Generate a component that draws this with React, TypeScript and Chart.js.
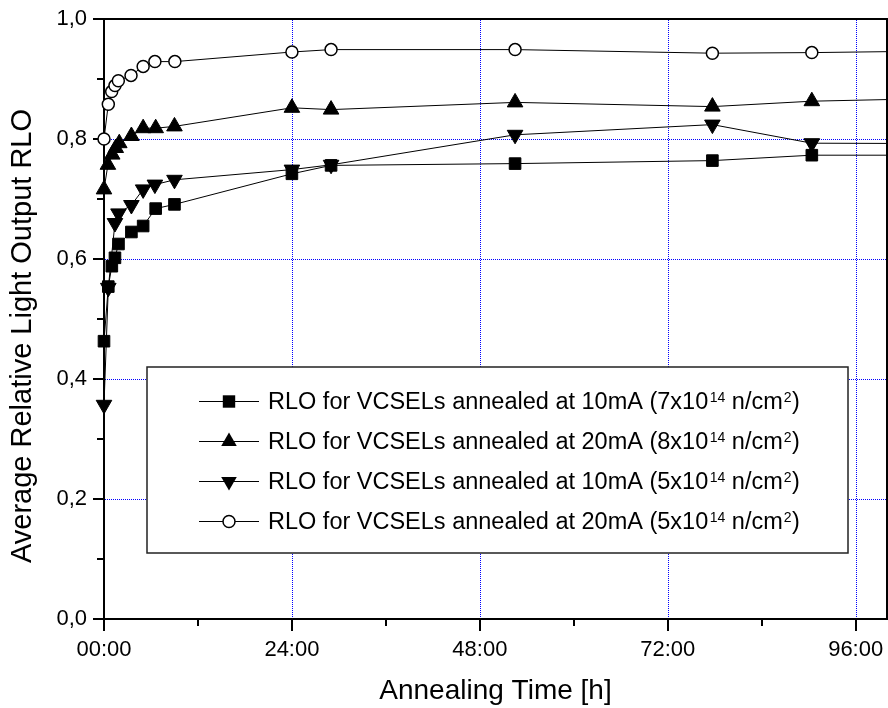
import React, { useEffect, useRef } from 'react';
import { Chart, registerables } from 'chart.js';

Chart.register(...registerables);

const FONT = '"Liberation Sans", Arial, Helvetica, sans-serif';

// ---- axis ticks ----
const xMajorTicks = [0, 24, 48, 72, 96];
const xMinorTicks = [12, 36, 60, 84];
const yMajorTicks = [0, 0.2, 0.4, 0.6, 0.8, 1.0];
const yMinorTicks = [0.1, 0.3, 0.5, 0.7, 0.9];
const xGridValues = [24, 48, 72, 96];
const yGridValues = [0.2, 0.4, 0.6, 0.8];

// ---- series: RLO 10mA (7x10^14) squares ----
const sqTimes = [0, 0.55, 1.0, 1.4, 1.85, 3.5, 5.0, 6.6, 9.0, 24, 29, 52.5, 77.7, 90.4, 115];
const sqValues = [0.463, 0.554, 0.588, 0.602, 0.625, 0.645, 0.655, 0.684, 0.691, 0.742, 0.756, 0.759, 0.764, 0.773, 0.773];

// ---- series: RLO 20mA (8x10^14) up triangles ----
const upTimes = [0, 0.5, 1.05, 1.5, 1.95, 3.5, 5.0, 6.6, 9.0, 24, 29, 52.5, 77.7, 90.4, 115];
const upValues = [0.716, 0.757, 0.774, 0.785, 0.793, 0.805, 0.818, 0.818, 0.821, 0.852, 0.849, 0.861, 0.854, 0.863, 0.870];

// ---- series: RLO 10mA (5x10^14) down triangles ----
const dnTimes = [0, 0.55, 1.4, 1.85, 3.5, 5.0, 6.5, 9.0, 24, 29, 52.5, 77.7, 90.4, 115];
const dnValues = [0.357, 0.552, 0.66, 0.676, 0.69, 0.716, 0.724, 0.732, 0.749, 0.757, 0.807, 0.824, 0.793, 0.792];

// ---- series: RLO 20mA (5x10^14) open circles ----
const ciTimes = [0, 0.55, 0.98, 1.4, 1.83, 3.45, 5.0, 6.5, 9.05, 24, 29, 52.5, 77.7, 90.4, 115];
const ciValues = [0.8, 0.858, 0.879, 0.889, 0.897, 0.906, 0.921, 0.929, 0.929, 0.945, 0.949, 0.949, 0.943, 0.944, 0.948];

// ---- legend text parts ----
const legendMain = [
  'RLO for VCSELs annealed at 10mA (7x10',
  'RLO for VCSELs annealed at 20mA (8x10',
  'RLO for VCSELs annealed at 10mA (5x10',
  'RLO for VCSELs annealed at 20mA (5x10',
];
const legendExp = ['14', '14', '14', '14'];
const legendUnit = ' n/cm';
const legendUnitExp = '2';
const legendClose = ')';
const legendStyles = ['square', 'up', 'down', 'circle'];

const xTitle = 'Annealing Time [h]';
const yTitle = 'Average Relative Light Output RLO';

function toPoints(t: number[], v: number[]) {
  return t.map((x, i) => ({ x, y: v[i] }));
}

function drawMarker(ctx: CanvasRenderingContext2D, style: string, x: number, y: number) {
  ctx.save();
  ctx.fillStyle = '#000';
  ctx.strokeStyle = '#000';
  ctx.lineWidth = 1;
  if (style === 'square') {
    const s = 6.2;
    ctx.fillRect(x - s, y - s, 2 * s, 2 * s);
  } else if (style === 'up' || style === 'down') {
    const r = 9;
    const d = style === 'up' ? 1 : -1;
    ctx.beginPath();
    ctx.moveTo(x, y - d * r);
    ctx.lineTo(x + r * 0.866, y + d * r * 0.5);
    ctx.lineTo(x - r * 0.866, y + d * r * 0.5);
    ctx.closePath();
    ctx.fill();
  } else {
    ctx.fillStyle = '#fff';
    ctx.lineWidth = 1.5;
    ctx.beginPath();
    ctx.arc(x, y, 6, 0, Math.PI * 2);
    ctx.fill();
    ctx.stroke();
  }
  ctx.restore();
}

const decorPlugin = {
  id: 'decor',
  beforeDatasetsDraw(chart: any) {
    const { ctx, chartArea: a, scales } = chart;
    const xs = scales.x;
    const ys = scales.y;
    ctx.save();
    // dotted blue grid
    ctx.fillStyle = '#0000ff';
    for (const v of yGridValues) {
      const py = Math.round(ys.getPixelForValue(v));
      for (let px = Math.ceil(a.left) + 1; px < a.right; px += 2) ctx.fillRect(px, py, 1, 1);
    }
    for (const v of xGridValues) {
      const px = Math.round(xs.getPixelForValue(v));
      for (let py = Math.ceil(a.top) + 1; py < a.bottom; py += 2) ctx.fillRect(px, py, 1, 1);
    }
    // frame
    ctx.strokeStyle = '#000';
    ctx.lineWidth = 2;
    ctx.strokeRect(a.left, a.top, a.right - a.left, a.bottom - a.top);
    ctx.beginPath();
    for (const v of xMajorTicks) {
      const px = Math.round(xs.getPixelForValue(v));
      ctx.moveTo(px, a.bottom);
      ctx.lineTo(px, a.bottom + 12);
    }
    for (const v of xMinorTicks) {
      const px = Math.round(xs.getPixelForValue(v));
      ctx.moveTo(px, a.bottom);
      ctx.lineTo(px, a.bottom + 7);
    }
    for (const v of yMajorTicks) {
      const py = Math.round(ys.getPixelForValue(v));
      ctx.moveTo(a.left, py);
      ctx.lineTo(a.left - 11, py);
    }
    for (const v of yMinorTicks) {
      const py = Math.round(ys.getPixelForValue(v));
      ctx.moveTo(a.left, py);
      ctx.lineTo(a.left - 7, py);
    }
    ctx.stroke();
    ctx.restore();
  },
  afterDatasetsDraw(chart: any) {
    const { ctx } = chart;
    // legend box
    const bx = 147, by = 367, bw = 701, bh = 186;
    ctx.save();
    ctx.fillStyle = '#fff';
    ctx.fillRect(bx, by, bw, bh);
    ctx.strokeStyle = '#222';
    ctx.lineWidth = 1.5;
    ctx.strokeRect(bx, by, bw, bh);
    for (let i = 0; i < legendMain.length; i++) {
      const cy = 401 + i * 40;
      ctx.strokeStyle = '#000';
      ctx.lineWidth = 1;
      ctx.beginPath();
      ctx.moveTo(199, cy + 0.5);
      ctx.lineTo(259, cy + 0.5);
      ctx.stroke();
      drawMarker(ctx, legendStyles[i], 229, cy + 0.5);
      const base = cy + 7.5;
      ctx.fillStyle = '#000';
      ctx.textAlign = 'left';
      ctx.textBaseline = 'alphabetic';
      let x = 268;
      ctx.font = `23.5px ${FONT}`;
      ctx.fillText(legendMain[i], x, base);
      x += ctx.measureText(legendMain[i]).width + 1.5;
      ctx.font = `14px ${FONT}`;
      ctx.fillText(legendExp[i], x, base - 7);
      x += ctx.measureText(legendExp[i]).width;
      ctx.font = `23.5px ${FONT}`;
      ctx.fillText(legendUnit, x, base);
      x += ctx.measureText(legendUnit).width + 1;
      ctx.font = `14px ${FONT}`;
      ctx.fillText(legendUnitExp, x, base - 7);
      x += ctx.measureText(legendUnitExp).width + 0.5;
      ctx.font = `23.5px ${FONT}`;
      ctx.fillText(legendClose, x, base);
    }
    // y title
    ctx.translate(23, 336);
    ctx.rotate(-Math.PI / 2);
    ctx.font = `29px ${FONT}`;
    ctx.textAlign = 'center';
    ctx.textBaseline = 'middle';
    ctx.fillStyle = '#000';
    ctx.fillText(yTitle, 0, 0);
    ctx.restore();
  },
};

export default function App() {
  const ref = useRef<HTMLCanvasElement | null>(null);
  useEffect(() => {
    if (!ref.current) return;
    const common = {
      borderColor: '#000',
      borderWidth: 1,
      pointBorderColor: '#000',
      pointBorderWidth: 1,
      showLine: true,
      tension: 0,
      clip: { left: 20, top: 20, right: 0, bottom: 20 },
    };
    const chart = new Chart(ref.current, {
      type: 'scatter',
      data: {
        datasets: [
          { ...common, label: legendMain[0], data: toPoints(sqTimes, sqValues), pointStyle: 'rect', pointRadius: 8.2, pointBackgroundColor: '#000' },
          { ...common, label: legendMain[1], data: toPoints(upTimes, upValues), pointStyle: 'triangle', pointRadius: 9, pointBackgroundColor: '#000' },
          { ...common, label: legendMain[2], data: toPoints(dnTimes, dnValues), pointStyle: 'triangle', pointRotation: 180, pointRadius: 9, pointBackgroundColor: '#000' },
          { ...common, label: legendMain[3], data: toPoints(ciTimes, ciValues), pointStyle: 'circle', pointRadius: 6, pointBorderWidth: 1.5, pointBackgroundColor: '#fff' },
        ] as any,
      },
      options: {
        responsive: false,
        animation: false,
        layout: { autoPadding: false, padding: { top: 19, right: 1, left: 0, bottom: 0 } },
        plugins: { legend: { display: false }, tooltip: { enabled: false }, title: { display: false } },
        scales: {
          x: {
            type: 'linear',
            min: 0,
            max: 100,
            afterFit: (s: any) => {
              s.height = 89;
              s.paddingLeft = 0;
              s.paddingRight = 0;
              s.paddingTop = 0;
              s.paddingBottom = 0;
            },
            ticks: {
              stepSize: 24,
              includeBounds: false,
              color: '#000',
              font: { family: FONT, size: 22 },
              padding: 18,
              maxRotation: 0,
              callback: (v: any) => `${String(v).padStart(2, '0')}:00`,
            },
            grid: { display: false, drawTicks: false },
            border: { display: false },
            title: { display: true, text: xTitle, color: '#000', font: { family: FONT, size: 28 }, padding: { top: 0, bottom: 0 } },
          },
          y: {
            type: 'linear',
            min: 0,
            max: 1,
            afterFit: (s: any) => {
              s.width = 104;
              s.paddingLeft = 0;
              s.paddingRight = 0;
              s.paddingTop = 0;
              s.paddingBottom = 0;
            },
            ticks: {
              stepSize: 0.2,
              color: '#000',
              font: { family: FONT, size: 22 },
              padding: 17,
              callback: (v: any) => Number(v).toFixed(1).replace('.', ','),
            },
            grid: { display: false, drawTicks: false },
            border: { display: false },
            title: { display: false },
          },
        },
      } as any,
      plugins: [decorPlugin],
    });
    return () => chart.destroy();
  }, []);
  return (
    <div style={{ position: 'absolute', left: 0, top: 0, width: 888, height: 708, background: '#fff' }}>
      <canvas ref={ref} width={888} height={708} />
    </div>
  );
}
